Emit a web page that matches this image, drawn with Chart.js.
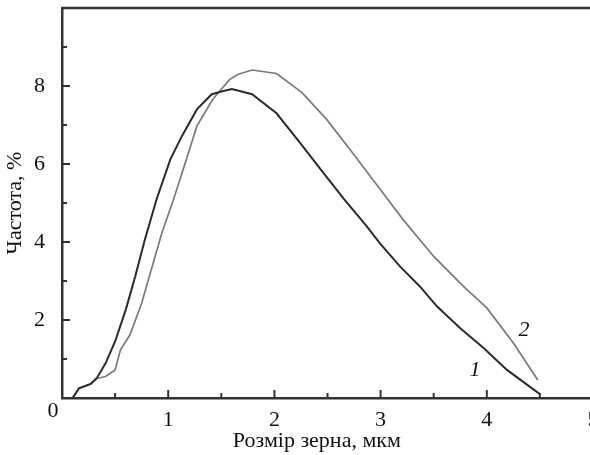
<!DOCTYPE html>
<html>
<head>
<meta charset="utf-8">
<script src="https://cdn.jsdelivr.net/npm/chart.js@4.4.1/dist/chart.umd.min.js"></script>
<style>
    html, body { margin: 0; padding: 0; background: #fff; overflow: hidden; }
    #wrap { width: 600px; height: 455px; }
</style>
</head>
<body>
<div id="wrap"><canvas id="grainChart"></canvas></div>
<script>
// curve 1 (dark)
const size1 = [0.10, 0.16, 0.27, 0.33, 0.41, 0.50, 0.60, 0.69, 0.78, 0.89, 1.02, 1.13, 1.27, 1.41, 1.52, 1.60,
    1.79, 2.02, 2.24, 2.43, 2.65, 2.87, 2.99, 3.18, 3.37, 3.53, 3.75, 3.97, 4.19, 4.34, 4.50];
const freq1 = [0.00, 0.25, 0.36, 0.52, 0.89, 1.45, 2.26, 3.12, 4.06, 5.09, 6.12, 6.72, 7.40, 7.79, 7.87, 7.92,
    7.79, 7.30, 6.55, 5.88, 5.12, 4.40, 3.98, 3.38, 2.86, 2.35, 1.79, 1.28, 0.72, 0.42, 0.10];

// curve 2 (grey)
const size2 = [0.10, 0.16, 0.27, 0.33, 0.41, 0.50, 0.55, 0.64, 0.75, 0.85, 0.94, 1.05, 1.14, 1.27, 1.42, 1.52,
    1.58, 1.66, 1.79, 2.02, 2.26, 2.49, 2.71, 2.96, 3.21, 3.50, 3.78, 4.00, 4.25, 4.48];
const freq2 = [0.00, 0.25, 0.36, 0.50, 0.55, 0.72, 1.23, 1.62, 2.43, 3.38, 4.23, 5.09, 5.85, 6.97, 7.66, 7.98,
    8.17, 8.30, 8.41, 8.32, 7.83, 7.15, 6.38, 5.48, 4.58, 3.63, 2.86, 2.31, 1.41, 0.46];

const xTickLabels = ['1', '2', '3', '4', '5'];
const yTickLabels = ['2', '4', '6', '8'];
const curveNames = ['1', '2'];
const curveNameX = [3.89, 4.35];
const curveNameY = [0.72, 1.75];
const xTitle = 'Розмір зерна, мкм';

const axisColor = '#333';
const serif = "'Liberation Serif', 'Times New Roman', serif";
const fontSize = 22;

// top frame line, inward tick marks, curve numbers, origin "0" and x title
const frameTicks = {
    id: 'frameTicks',
    afterDraw(chart) {
        const { ctx, chartArea: a, scales: { x, y } } = chart;
        ctx.save();
        ctx.strokeStyle = axisColor;
        ctx.lineWidth = 2.5;
        ctx.beginPath();
        ctx.moveTo(a.left - 1, a.top);
        ctx.lineTo(a.right, a.top);
        ctx.stroke();

        ctx.lineWidth = 2;
        y.ticks.forEach(t => {
            if (t.value <= y.min || t.value >= y.max) return;
            const py = y.getPixelForValue(t.value);
            const len = t.value % 2 === 0 ? 8 : 5;
            ctx.beginPath();
            ctx.moveTo(a.left, py);
            ctx.lineTo(a.left + len, py);
            ctx.stroke();
        });
        x.ticks.forEach(t => {
            if (t.value <= x.min || t.value >= x.max) return;
            const px = x.getPixelForValue(t.value);
            const len = Number.isInteger(t.value) ? 8 : 5;
            ctx.beginPath();
            ctx.moveTo(px, a.bottom);
            ctx.lineTo(px, a.bottom - len);
            ctx.stroke();
        });

        ctx.fillStyle = '#111';
        ctx.font = 'italic ' + fontSize + 'px ' + serif;
        ctx.textAlign = 'center';
        ctx.textBaseline = 'middle';
        curveNames.forEach((n, i) => {
            ctx.fillText(n, x.getPixelForValue(curveNameX[i]), y.getPixelForValue(curveNameY[i]));
        });

        ctx.font = fontSize + 'px ' + serif;
        ctx.fillText(xTitle, x.getPixelForValue(2.4), chart.height - 14);
        ctx.textBaseline = 'top';
        ctx.fillText('0', x.getPixelForValue(0) - 9, a.bottom + 2);
        ctx.restore();
    }
};

const ctx = document.getElementById('grainChart').getContext('2d');

new Chart(ctx, {
    type: 'scatter',
    data: {
        datasets: [{
            label: '1',
            data: size1.map((v, i) => ({ x: v, y: freq1[i] })),
            showLine: true,
            borderColor: '#2b2b2b',
            borderWidth: 2,
            pointRadius: 0,
            tension: 0
        }, {
            label: '2',
            data: size2.map((v, i) => ({ x: v, y: freq2[i] })),
            showLine: true,
            borderColor: '#7a7a7a',
            borderWidth: 1.7,
            pointRadius: 0,
            tension: 0
        }]
    },
    options: {
        responsive: true,
        maintainAspectRatio: false,
        animation: false,
        layout: { padding: { top: 8, right: 7, left: 0, bottom: 0 } },
        plugins: {
            legend: { display: false },
            tooltip: { enabled: false }
        },
        scales: {
            x: {
                type: 'linear',
                min: 0,
                max: 5,
                afterFit(scale) {
                    scale.height = 57;
                    scale.paddingLeft = 0;
                    scale.paddingRight = 0;
                },
                grid: { display: false },
                border: { display: true, color: axisColor, width: 2.5 },
                ticks: {
                    stepSize: 0.5,
                    autoSkip: false,
                    maxRotation: 0,
                    padding: 1,
                    color: '#111',
                    font: { family: serif, size: fontSize },
                    callback: v => xTickLabels.includes(String(v)) ? String(v) : ''
                }
            },
            y: {
                min: 0,
                max: 10,
                afterFit(scale) {
                    scale.width = 62;
                    scale.paddingTop = 0;
                    scale.paddingBottom = 0;
                },
                grid: { display: false },
                border: { display: true, color: axisColor, width: 2.5 },
                ticks: {
                    stepSize: 1,
                    autoSkip: false,
                    padding: 9,
                    color: '#111',
                    font: { family: serif, size: fontSize },
                    callback: v => yTickLabels.includes(String(v)) ? String(v) : ''
                },
                title: {
                    display: true,
                    text: 'Частота, %',
                    color: '#111',
                    font: { family: serif, size: fontSize },
                    padding: { top: 2, bottom: 0 }
                }
            }
        }
    },
    plugins: [frameTicks]
});
</script>
</body>
</html>
